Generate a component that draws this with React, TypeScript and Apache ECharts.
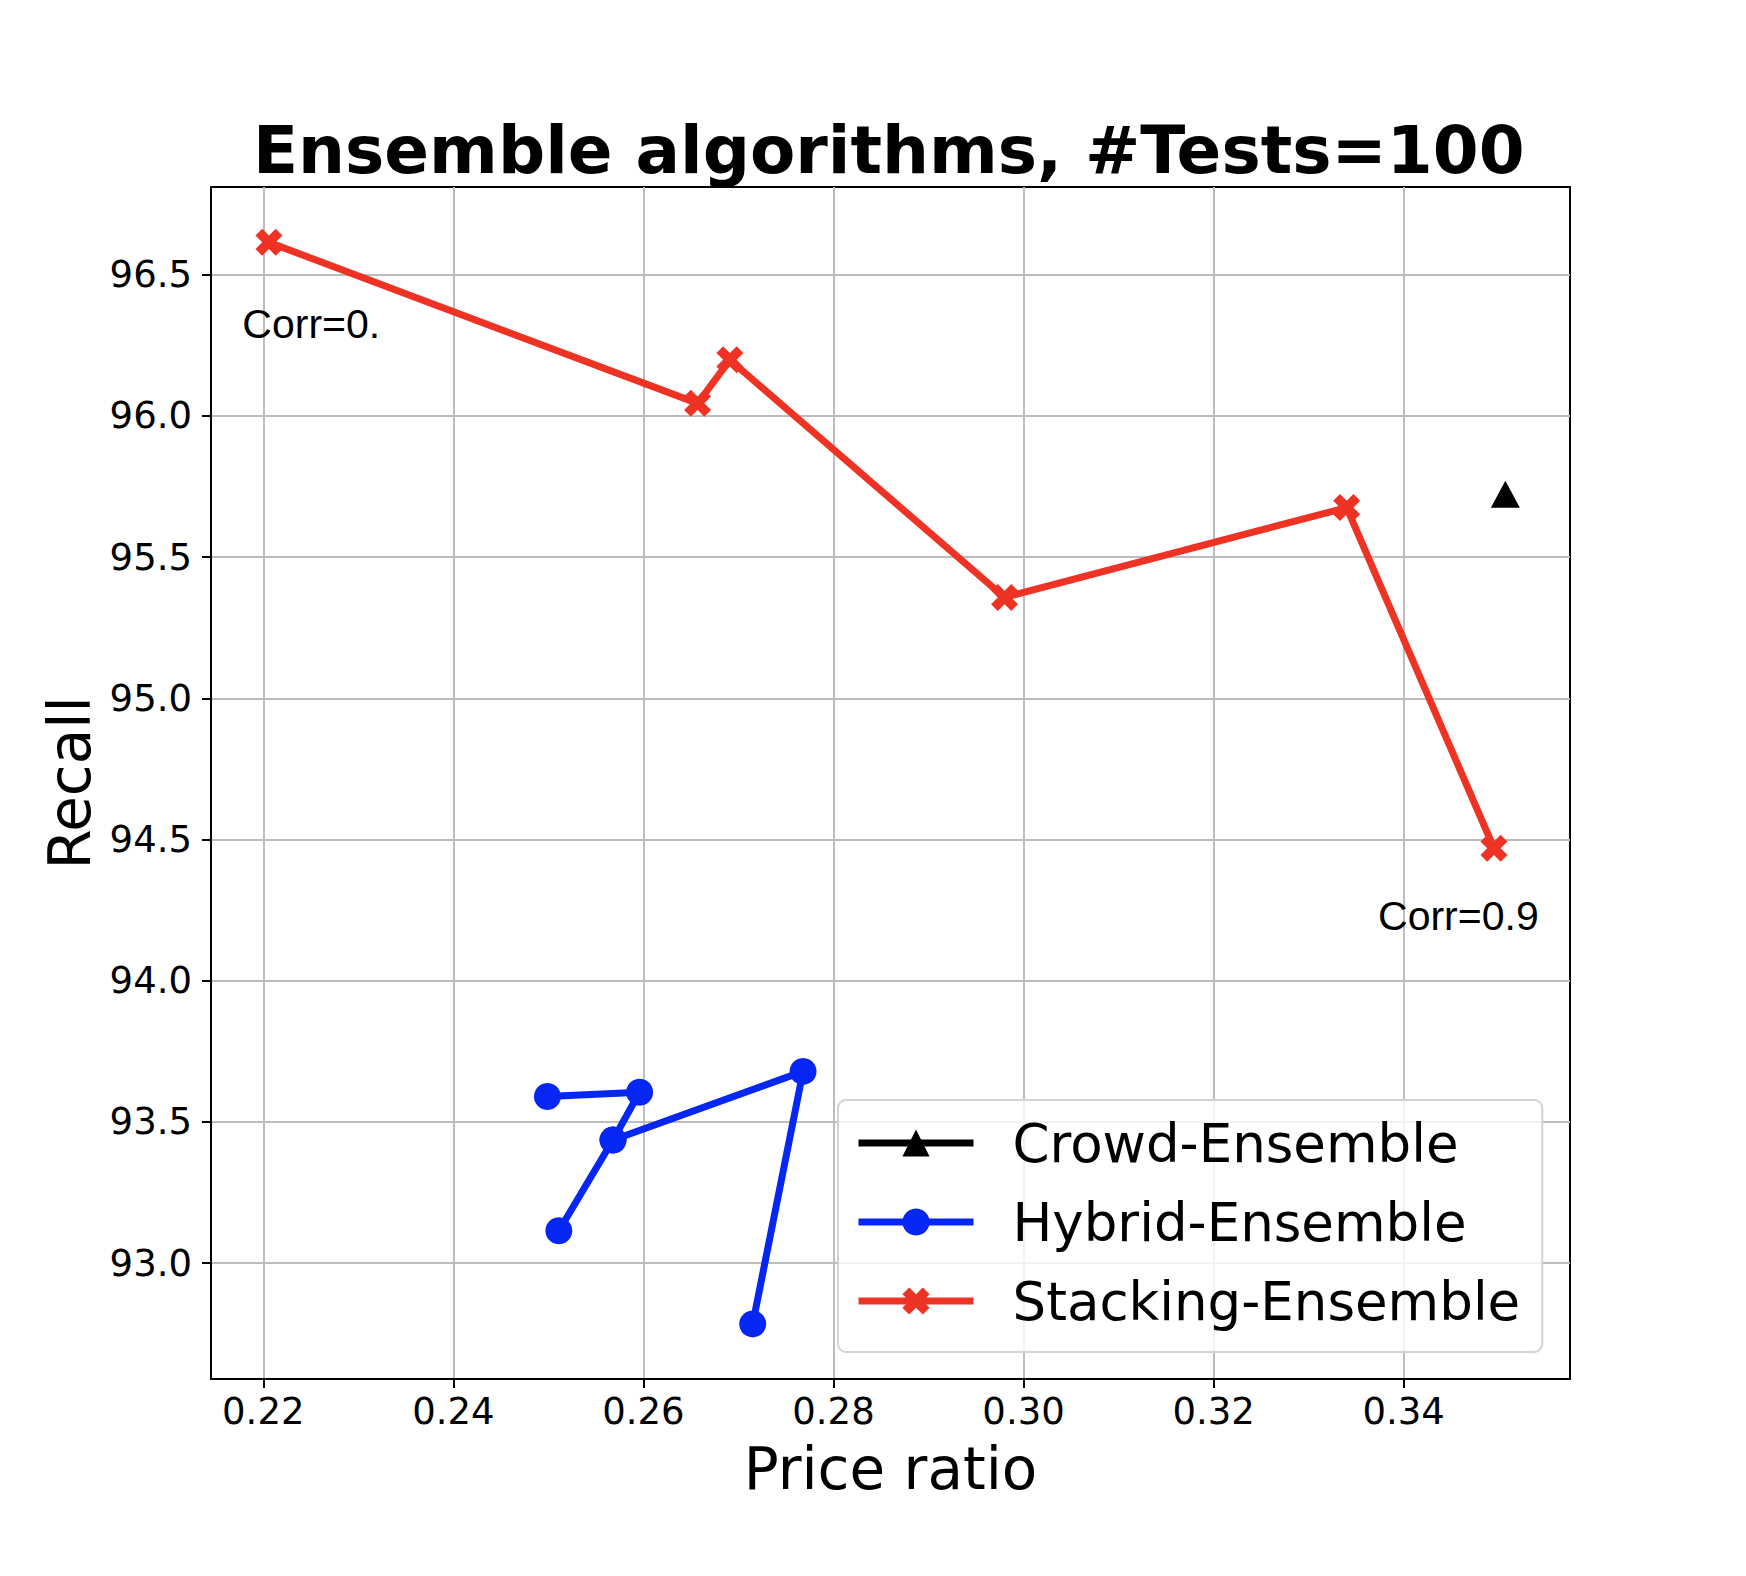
import React, { useEffect, useRef } from "react";
import * as echarts from "echarts";

const crowdX = [0.3507];
const crowdY = [95.722];

const hybridX = [0.2499, 0.2596, 0.2568, 0.2511, 0.2568, 0.2768, 0.2715];
const hybridY = [93.59, 93.605, 93.436, 93.115, 93.436, 93.679, 92.785];

const stackX = [0.2206, 0.2657, 0.2691, 0.298, 0.334, 0.3495];
const stackY = [96.614, 96.044, 96.198, 95.357, 95.675, 94.469];

const xTicks = [0.22, 0.24, 0.26, 0.28, 0.3, 0.32, 0.34];
const yTicks = [93.0, 93.5, 94.0, 94.5, 95.0, 95.5, 96.0, 96.5];

const annotations = [
  { text: "Corr=0.", x: 0.2178, y: 96.325 },
  { text: "Corr=0.9", x: 0.3373, y: 94.228 },
];

const seriesNames = ["Crowd-Ensemble", "Hybrid-Ensemble", "Stacking-Ensemble"];

const RED = "#ee3325";
const BLUE = "#0626f4";

const X_PATH =
  "path://M2.5,0 L5,2.5 L7.5,0 L10,2.5 L7.5,5 L10,7.5 L7.5,10 L5,7.5 L2.5,10 L0,7.5 L2.5,5 L0,2.5 Z";

function pairs(xs: number[], ys: number[]) {
  return xs.map((x, i) => [x, ys[i]]);
}

export default function App() {
  const ref = useRef<HTMLDivElement>(null);

  useEffect(() => {
    document.body.style.margin = "0";
    if (!ref.current) return;
    const chart = echarts.init(ref.current, null, { renderer: "svg" });
    const axisFont = { fontFamily: "DejaVu Sans", color: "#000" };
    chart.setOption({
      animation: false,
      backgroundColor: "#fff",
      title: {
        text: "Ensemble algorithms, #Tests=100",
        left: 253,
        top: 117,
        padding: 0,
        textStyle: {
          fontFamily: "DejaVu Sans",
          fontWeight: "bold",
          fontSize: 66,
          color: "#000",
        },
      },
      grid: {
        left: 211,
        right: 176,
        top: 187,
        bottom: 197,
        show: true,
        borderColor: "#000",
        borderWidth: 2,
        backgroundColor: "transparent",
      },
      xAxis: {
        type: "value",
        min: 0.2145,
        max: 0.3575,
        name: "Price ratio",
        nameLocation: "middle",
        nameGap: 61,
        nameTextStyle: { ...axisFont, fontSize: 58 },
        axisLine: { show: true, onZero: false, lineStyle: { color: "#000", width: 2 } },
        axisTick: {
          show: true,
          length: 9,
          lineStyle: { color: "#000", width: 2 },
          customValues: xTicks,
        },
        axisLabel: {
          ...axisFont,
          fontSize: 37,
          margin: 14,
          customValues: xTicks,
          formatter: (v: number) => v.toFixed(2),
        },
        splitLine: { show: true, lineStyle: { color: "#bdbdbd", width: 2 } },
      },
      yAxis: {
        type: "value",
        min: 92.59,
        max: 96.81,
        name: "Recall",
        nameLocation: "middle",
        nameGap: 110,
        nameTextStyle: { ...axisFont, fontSize: 58 },
        axisLine: { show: true, onZero: false, lineStyle: { color: "#000", width: 2 } },
        axisTick: {
          show: true,
          length: 9,
          lineStyle: { color: "#000", width: 2 },
          customValues: yTicks,
        },
        axisLabel: {
          ...axisFont,
          fontSize: 37,
          margin: 19,
          customValues: yTicks,
          formatter: (v: number) => v.toFixed(1),
        },
        splitLine: { show: true, lineStyle: { color: "#bdbdbd", width: 2 } },
      },
      legend: {
        orient: "vertical",
        left: 838,
        top: 1100,
        padding: [15, 22, 23, 17],
        itemWidth: 115,
        itemHeight: 34,
        itemGap: 23,
        data: seriesNames,
        backgroundColor: "rgba(255,255,255,0.8)",
        borderColor: "#d2d2d2",
        borderWidth: 2,
        borderRadius: 8,
        lineStyle: { width: 7 },
        textStyle: {
          fontFamily: "DejaVu Sans",
          fontSize: 53,
          lineHeight: 56,
          color: "#000",
          padding: [0, 0, 0, 34],
        },
      },
      series: [
        {
          name: seriesNames[0],
          type: "line",
          data: pairs(crowdX, crowdY),
          symbol: "triangle",
          symbolSize: [29, 27],
          itemStyle: { color: "#000" },
          lineStyle: { color: "#000", width: 7 },
          z: 3,
        },
        {
          name: seriesNames[1],
          type: "line",
          data: pairs(hybridX, hybridY),
          symbol: "circle",
          symbolSize: 27,
          itemStyle: { color: BLUE },
          lineStyle: { color: BLUE, width: 7 },
          z: 4,
        },
        {
          name: seriesNames[2],
          type: "line",
          data: pairs(stackX, stackY),
          symbol: X_PATH,
          symbolSize: 27,
          itemStyle: { color: RED },
          lineStyle: { color: RED, width: 7 },
          z: 5,
        },
      ],
    });

    const graphics = annotations.map((a) => {
      const p = chart.convertToPixel({ gridIndex: 0 }, [a.x, a.y]) as number[];
      return {
        type: "text",
        x: p[0],
        y: p[1],
        z: 10,
        style: {
          text: a.text,
          fontFamily: "Liberation Sans",
          fontSize: 41,
          fill: "#000",
          textAlign: "left",
          textVerticalAlign: "middle",
        },
      };
    });
    chart.setOption({ graphic: graphics });

    return () => chart.dispose();
  }, []);

  return <div ref={ref} style={{ width: 1746, height: 1576 }} />;
}
